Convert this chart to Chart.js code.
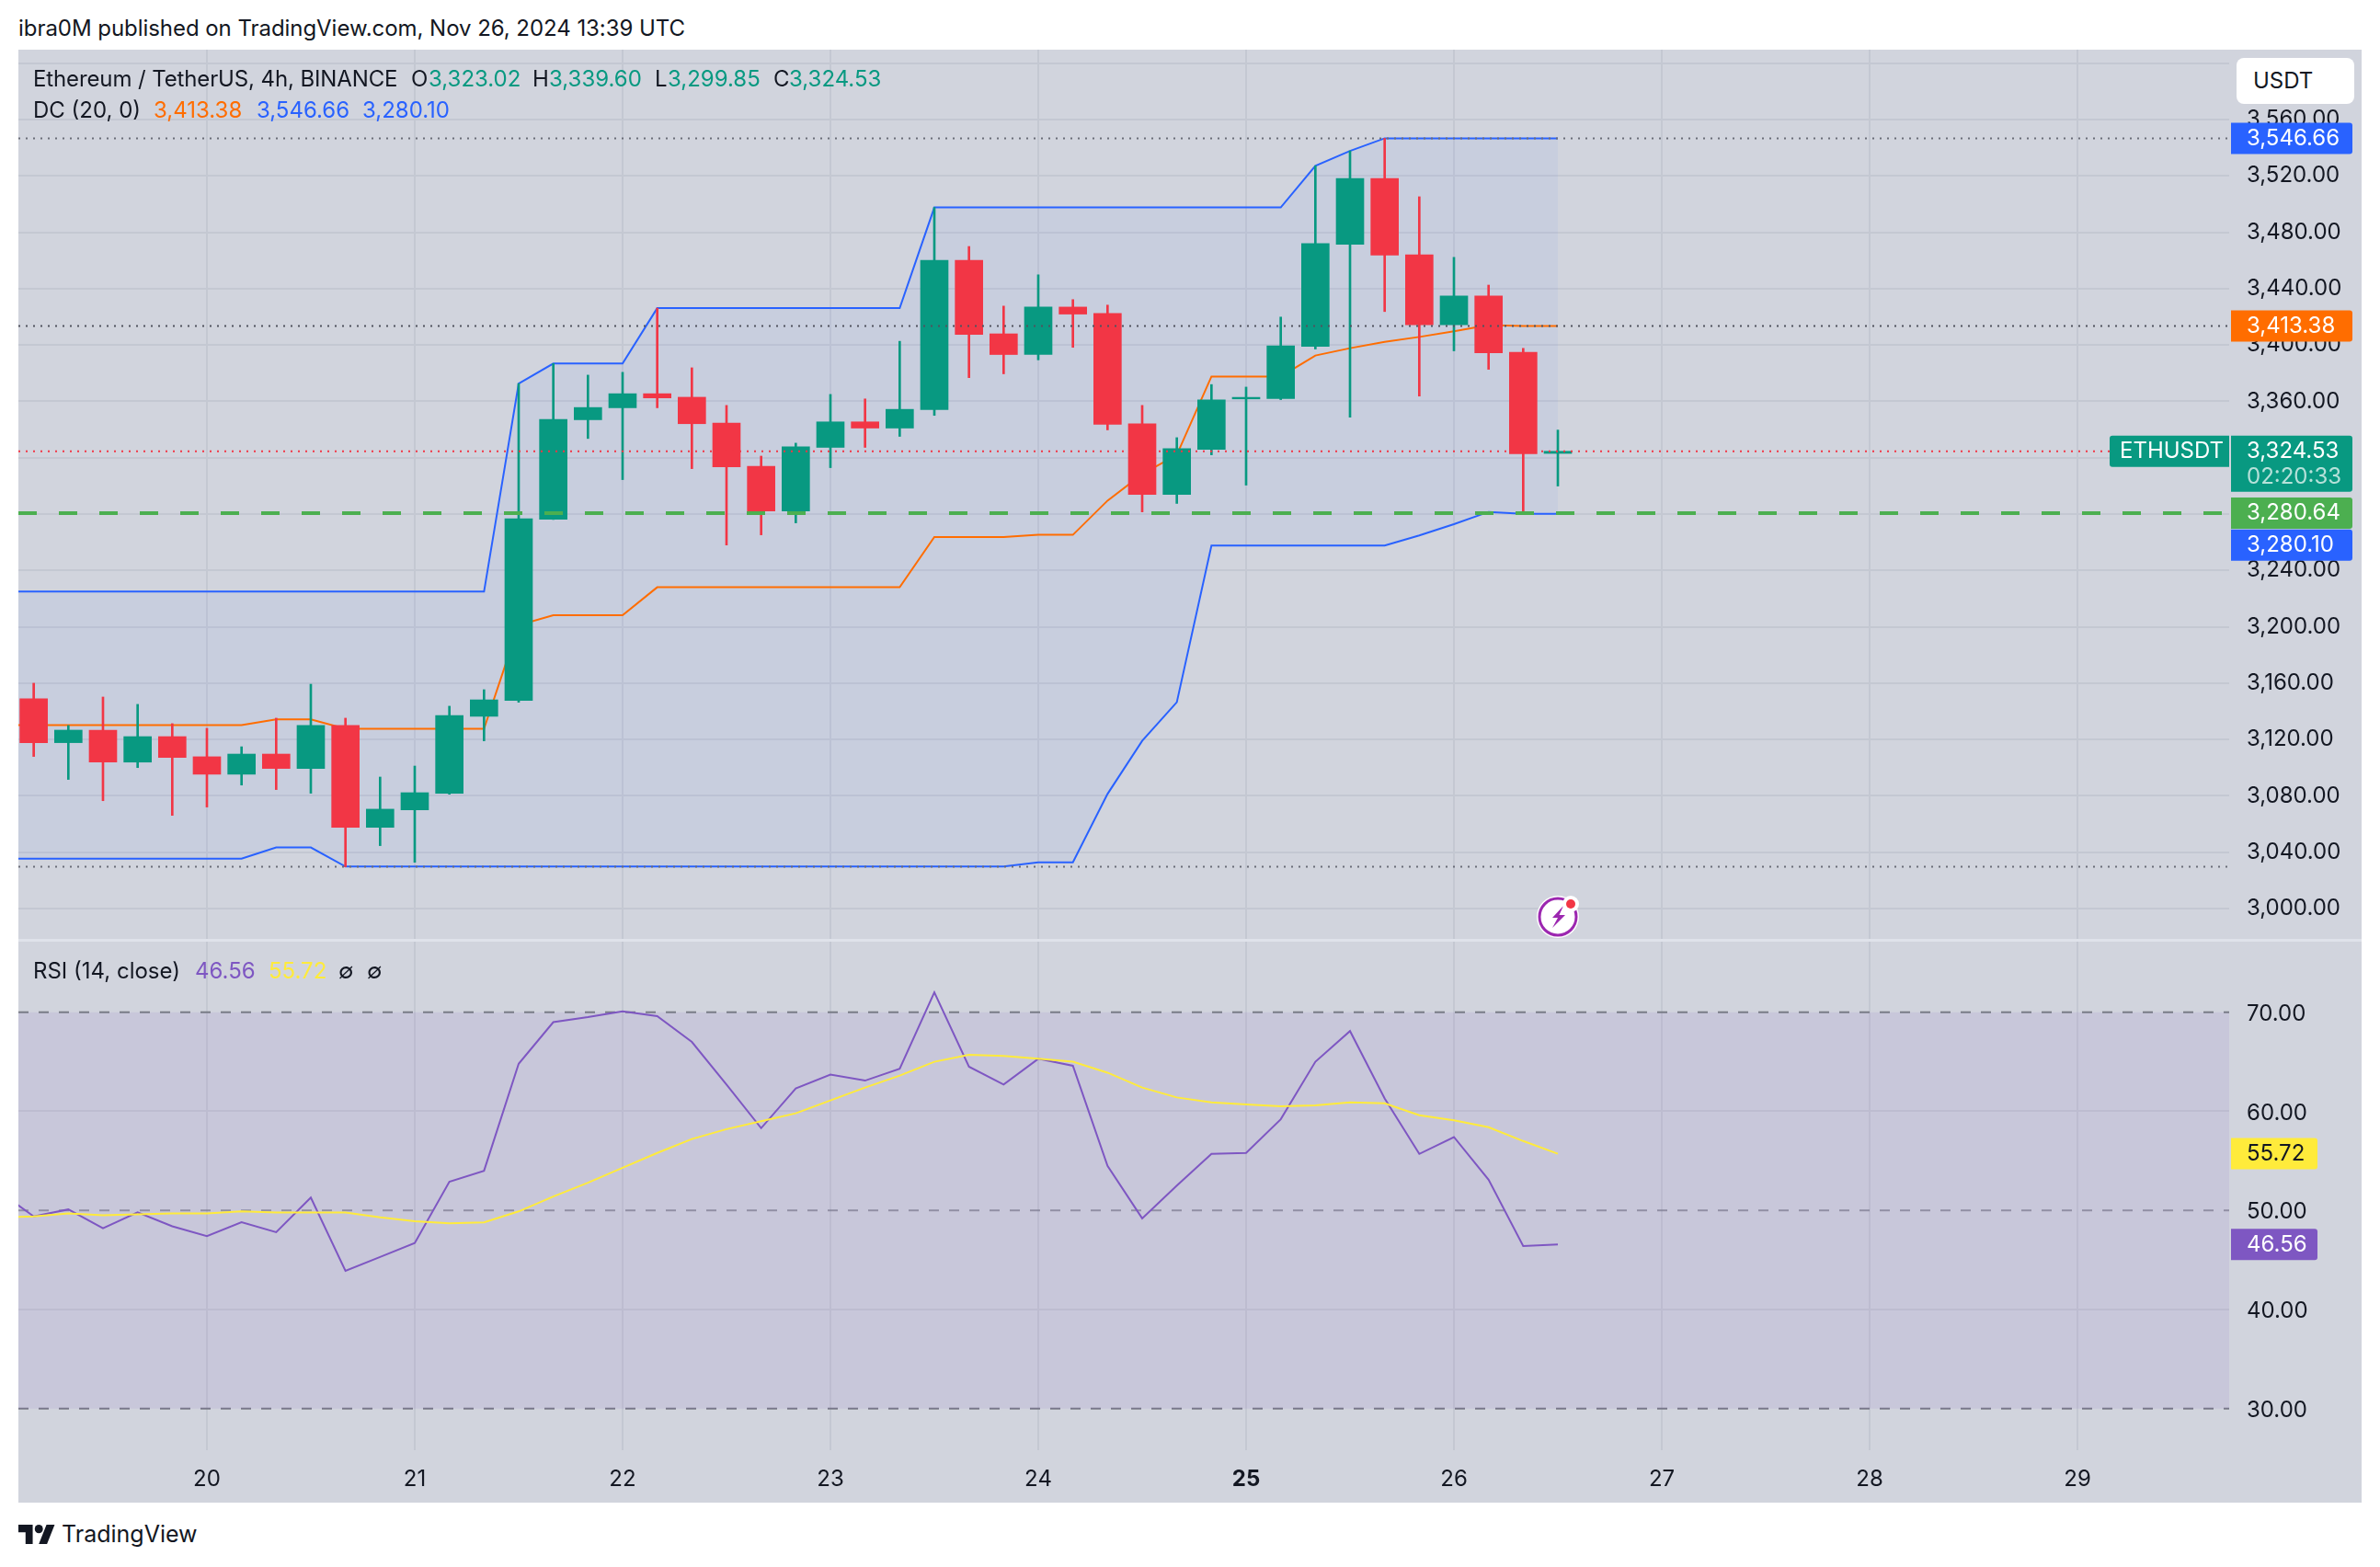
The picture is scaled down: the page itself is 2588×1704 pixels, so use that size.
<!DOCTYPE html>
<html>
<head>
<meta charset="utf-8">
<title>ETHUSDT 4h</title>
<script src="https://cdn.jsdelivr.net/npm/chart.js@4"></script>
<style>
html, body { margin: 0; padding: 0; background: #fff; }
body { width: 2588px; height: 1704px; position: relative; overflow: hidden; font-family: Inter, "Noto Sans", sans-serif; color: #131722; }
.t { position: absolute; white-space: pre; font-size: 24px; line-height: 30px; }
#panel { position: absolute; left: 20px; top: 54px; width: 2548px; height: 1580px; background: #d1d4dd; }
#sep { position: absolute; left: 20px; top: 1021px; width: 2548px; height: 3px; background: #dfe2ea; }
canvas { position: absolute; left: 20px; }
#usdt { position: absolute; left: 2432px; top: 63px; width: 128px; height: 50px; background: #fff; border-radius: 8px; }
#usdt span { position: absolute; left: 18px; top: 10px; font-size: 24px; line-height: 30px; }
</style>
</head>
<body>
<div id="panel"></div>
<canvas id="priceChart" width="2548" height="967" style="top:54px"></canvas>
<canvas id="rsiChart" width="2548" height="610" style="top:1024px"></canvas>
<div id="sep"></div>

<div class="t" style="left:20px;top:16px;letter-spacing:-0.05px">ibra0M published on TradingView.com, Nov 26, 2024 13:39 UTC</div>

<div class="t" style="left:36px;top:71px;letter-spacing:-0.12px">Ethereum / TetherUS, 4h, BINANCE</div>
<div class="t" style="left:447px;top:71px">O</div><div class="t" style="left:466px;top:71px;color:#089981">3,323.02</div>
<div class="t" style="left:579px;top:71px">H</div><div class="t" style="left:597px;top:71px;color:#089981">3,339.60</div>
<div class="t" style="left:712px;top:71px">L</div><div class="t" style="left:726px;top:71px;color:#089981">3,299.85</div>
<div class="t" style="left:841px;top:71px">C</div><div class="t" style="left:858px;top:71px;color:#089981">3,324.53</div>

<div class="t" style="left:36px;top:105px">DC (20, 0)</div>
<div class="t" style="left:167px;top:105px;color:#ff6d00">3,413.38</div>
<div class="t" style="left:279px;top:105px;color:#2962ff">3,546.66</div>
<div class="t" style="left:394px;top:105px;color:#2962ff">3,280.10</div>

<div class="t" style="left:36px;top:1041px">RSI (14, close)</div>
<div class="t" style="left:212px;top:1041px;color:#7e57c2">46.56</div>
<div class="t" style="left:292px;top:1041px;color:#ffeb3b">55.72</div>
<div class="t" style="left:368px;top:1041px">∅</div>
<div class="t" style="left:399px;top:1041px">∅</div>

<div id="usdt"><span>USDT</span></div>

<svg style="position:absolute;left:1664px;top:965px" width="60" height="60" viewBox="0 0 60 60">
  <circle cx="30" cy="32" r="23" fill="#fff"/>
  <circle cx="30" cy="32" r="20" fill="#fff" stroke="#9c27b0" stroke-width="3"/>
  <path d="M36 20 L24 33 L30 33 L24 44 L38 30 L31.5 30 Z" fill="#9c27b0"/>
  <circle cx="44" cy="18" r="9" fill="#fff"/>
  <circle cx="44" cy="18" r="5" fill="#f23645"/>
</svg>

<svg style="position:absolute;left:20px;top:1658px" width="40" height="21" viewBox="0 0 36 18" preserveAspectRatio="none">
  <path d="M14 18H7V7H0V0h14v18zM28 18h-8l7.5-18h8L28 18z" fill="#131722"/>
  <circle cx="20" cy="4" r="4" fill="#131722"/>
</svg>
<div class="t" style="left:67px;top:1653px;font-size:25px">TradingView</div>

<script>
// 4h bar slots, slot 0 = Nov 19 00:00
const barSlots = [1,2,3,4,5,6,7,8,9,10,11,12,13,14,15,16,17,18,19,20,21,22,23,24,25,26,27,28,29,30,31,32,33,34,35,36,37,38,39,40,41,42,43,44,45];
const lineSlots = [0].concat(barSlots);

const opens = [3148.8,3117.7,3126.6,3103.9,3122.0,3107.7,3095.3,3109.6,3099.4,3129.9,3057.6,3070.0,3081.8,3136.4,3147.7,3276.2,3346.9,3355.4,3365.4,3362.9,3344.6,3313.9,3282.2,3327.3,3345.4,3341.0,3354.1,3460.1,3407.9,3393.2,3426.9,3422.3,3344.0,3293.9,3325.9,3361.7,3361.9,3399.0,3471.5,3518.2,3464.0,3414.3,3434.7,3394.8,3323.02];
const highs = [3159.9,3129.9,3150.1,3144.9,3131.2,3127.9,3114.8,3135.1,3159.2,3135.1,3093.3,3101.1,3143.6,3155.3,3372.6,3386.8,3378.6,3380.6,3426.1,3383.8,3357.1,3321.1,3330.3,3364.9,3361.7,3402.6,3497.6,3469.9,3427.6,3449.8,3432.2,3428.3,3357.1,3334.2,3371.9,3370.1,3419.8,3527.2,3537.7,3546.66,3505.2,3462.2,3442.5,3397.6,3339.60];
const lows = [3107.9,3091.6,3076.5,3100.0,3066.1,3072.0,3087.6,3084.4,3081.8,3029.6,3044.6,3032.8,3081.1,3119.0,3146.4,3276.1,3333.6,3304.4,3355.4,3312.2,3258.0,3265.2,3273.7,3312.9,3327.3,3335.1,3350.0,3376.8,3379.5,3389.4,3398.3,3339.7,3281.5,3287.5,3322.0,3300.5,3361.2,3397.1,3348.8,3423.7,3363.7,3395.8,3382.7,3280.10,3299.85];
const closes = [3117.7,3126.6,3103.9,3122.0,3107.2,3095.3,3109.6,3099.4,3129.9,3057.6,3070.5,3082.2,3137.0,3148.1,3276.7,3347.1,3355.6,3365.4,3362.4,3344.1,3313.4,3282.2,3327.8,3345.4,3341.0,3354.3,3460.1,3407.4,3393.2,3426.9,3421.9,3343.6,3293.9,3326.4,3361.0,3362.8,3399.4,3472.0,3518.2,3463.8,3414.3,3434.7,3394.4,3322.7,3324.53];

const dcUpper = [3224.9,3224.9,3224.9,3224.9,3224.9,3224.9,3224.9,3224.9,3224.9,3224.9,3224.9,3224.9,3224.9,3224.9,3224.9,3372.6,3386.8,3386.8,3386.8,3426.1,3426.1,3426.1,3426.1,3426.1,3426.1,3426.1,3426.1,3497.6,3497.6,3497.6,3497.6,3497.6,3497.6,3497.6,3497.6,3497.6,3497.6,3497.6,3527.2,3537.7,3546.66,3546.66,3546.66,3546.66,3546.66,3546.66];
const dcMiddle = [3130.1,3130.1,3130.1,3130.1,3130.1,3130.1,3130.1,3130.1,3134.2,3134.2,3127.5,3127.5,3127.5,3127.5,3127.5,3201.1,3208.2,3208.2,3208.2,3228.0,3228.0,3228.0,3228.0,3228.0,3228.0,3228.0,3228.0,3263.7,3263.7,3263.7,3265.2,3265.2,3289.5,3308.3,3322.0,3377.6,3377.6,3377.6,3392.5,3397.7,3402.2,3405.7,3409.7,3414.1,3413.38,3413.38];
const dcLower = [3035.4,3035.4,3035.4,3035.4,3035.4,3035.4,3035.4,3035.4,3043.3,3043.3,3029.8,3029.8,3029.8,3029.8,3029.8,3029.8,3029.8,3029.8,3029.8,3029.8,3029.8,3029.8,3029.8,3029.8,3029.8,3029.8,3029.8,3029.8,3029.8,3029.8,3032.8,3032.8,3081.3,3119.0,3146.4,3257.6,3257.6,3257.6,3257.6,3257.6,3257.6,3264.8,3272.8,3281.5,3280.10,3280.10];

const rsiValues = [51.9,49.4,50.1,48.2,49.8,48.4,47.4,48.8,47.8,51.3,43.9,45.3,46.7,52.9,54.0,64.8,69.0,69.5,70.1,69.6,67.0,62.7,58.3,62.3,63.7,63.1,64.3,72.0,64.5,62.7,65.3,64.6,54.5,49.2,52.5,55.7,55.8,59.2,65.0,68.1,61.3,55.7,57.4,53.1,46.4,46.56];
const rsiAverage = [49.3,49.4,49.7,49.5,49.6,49.7,49.7,49.9,49.8,49.8,49.8,49.3,48.9,48.7,48.8,49.9,51.4,52.8,54.3,55.8,57.2,58.2,59.0,59.8,61.1,62.4,63.6,65.0,65.7,65.6,65.3,65.0,63.9,62.4,61.4,60.9,60.7,60.5,60.6,60.9,60.8,59.6,59.1,58.4,57.0,55.72];

const priceTicks = [3000,3040,3080,3120,3160,3200,3240,3280,3320,3360,3400,3440,3480,3520,3560,3600];
const hiddenPriceLabels = [3280,3320,3600];
const rsiTicks = [30,40,50,60,70];
const daySlots = [6,12,18,24,30,36,42,48,54,60];
const dayLabels = ['20','21','22','23','24','25','26','27','28','29'];

const highLine = 3546.66, midLine = 3413.38, lowLine = 3029.6, lastPrice = 3324.53, prevLine = 3280.64, dcLow = 3280.10;
const rsiLast = 46.56, rsiAvgLast = 55.72;

const xMin = 0.558, xMax = 64.38;
const upColor = '#089981', downColor = '#f23645';
const gridColor = '#c4c8d2';
const fontName = 'Inter, "Noto Sans", sans-serif';

Chart.defaults.font.family = fontName;
Chart.defaults.color = '#131722';
Chart.defaults.animation = false;

function money(v) {
  return v.toLocaleString('en-US', { minimumFractionDigits: 2, maximumFractionDigits: 2 });
}

function series(slots, values) {
  return slots.map((s, i) => ({ x: s, y: values[i] }));
}

function hLine(value, color, dash, width, order) {
  return {
    type: 'line',
    data: [{ x: xMin, y: value }, { x: xMax, y: value }],
    borderColor: color, borderDash: dash, borderWidth: width,
    pointRadius: 0, order: order
  };
}

function indicator(values, slots, color, order, fill, fillColor) {
  return {
    type: 'line',
    data: series(slots, values),
    borderColor: color, borderWidth: 2, pointRadius: 0, tension: 0,
    borderJoinStyle: 'miter',
    fill: fill || false, backgroundColor: fillColor || 'transparent', order: order
  };
}

function xAxis(showLabels) {
  return {
    type: 'linear', min: xMin, max: xMax, offset: false,
    afterBuildTicks: s => { s.ticks = daySlots.map(v => ({ value: v })); },
    afterFit: s => { s.height = showLabels ? 57 : 0; s.paddingLeft = 0; s.paddingRight = 0; },
    border: { display: false },
    grid: { color: gridColor, lineWidth: 2, drawTicks: false, offset: false },
    ticks: {
      display: showLabels, autoSkip: false, maxRotation: 0, padding: 17,
      callback: v => dayLabels[daySlots.indexOf(v)],
      font: c => (dayLabels[c.index] === '25' ? { size: 24, weight: 'bold' } : { size: 24 })
    }
  };
}

function yAxis(min, max, ticks, label, drawGrid, shift) {
  return {
    type: 'linear', position: 'right', min: min, max: max,
    afterBuildTicks: s => { s.ticks = ticks.map(v => ({ value: v })); },
    afterFit: s => { s.width = 144; s.paddingTop = 0; s.paddingBottom = 0; },
    border: { display: false },
    grid: { color: drawGrid, lineWidth: 2, drawTicks: false },
    ticks: { padding: 19, labelOffset: shift, font: { size: 24 }, callback: label }
  };
}

// value tags on the right axis, placed from the chart's own y scale
function tagPlugin(tags) {
  return {
    id: 'tags',
    afterDraw(chart) {
      const ctx = chart.ctx, left = chart.chartArea.right + 2;
      ctx.save();
      ctx.textBaseline = 'middle';
      ctx.font = '24px ' + fontName;
      tags.forEach(tag => {
        const y = chart.scales.y.getPixelForValue(tag.value) + (tag.shift || 0);
        const w = tag.width || 132, h = tag.height || 34;
        ctx.fillStyle = tag.bg;
        ctx.beginPath();
        ctx.roundRect(left, y - 17, w, h, [0, 3, 3, 0]);
        ctx.fill();
        ctx.fillStyle = tag.fg;
        ctx.textAlign = 'left';
        ctx.fillText(tag.text, left + 17, y);
        if (tag.sub) {
          ctx.fillStyle = 'rgba(255,255,255,0.7)';
          ctx.fillText(tag.sub, left + 17, y + 28);
        }
        if (tag.name) {
          ctx.fillStyle = tag.bg;
          ctx.beginPath();
          ctx.roundRect(left - 132, y - 17, 130, 34, [3, 0, 0, 3]);
          ctx.fill();
          ctx.fillStyle = tag.fg;
          ctx.fillText(tag.name, left - 121, y);
        }
      });
      ctx.restore();
    }
  };
}

new Chart(document.getElementById('priceChart'), {
  type: 'bar',
  data: {
    datasets: [
      hLine(midLine, '#50535e', [2, 6], 2, 1),
      hLine(highLine, '#6a6d78', [2, 6], 2, 1),
      hLine(lowLine, '#6a6d78', [2, 6], 2, 1),
      hLine(lastPrice, downColor, [2, 6], 2, 1),
      hLine(prevLine, '#4caf50', [20, 24], 4, 1),
      {
        type: 'bar', grouped: false, barThickness: 30, borderWidth: 0, order: 2,
        data: barSlots.map((s, i) => ({ x: s, y: [opens[i], closes[i]] })),
        backgroundColor: closes.map((c, i) => (c >= opens[i] ? upColor : downColor))
      },
      {
        type: 'bar', grouped: false, barThickness: 2, borderWidth: 0, order: 3,
        data: barSlots.map((s, i) => ({ x: s, y: [lows[i], highs[i]] })),
        backgroundColor: closes.map((c, i) => (c >= opens[i] ? upColor : downColor))
      },
      indicator(dcMiddle, lineSlots, '#ff6d00', 4),
      indicator(dcUpper, lineSlots, '#2962ff', 5, '+1', 'rgba(41,98,255,0.05)'),
      indicator(dcLower, lineSlots, '#2962ff', 5)
    ]
  },
  options: {
    responsive: false,
    layout: { padding: 0 },
    plugins: { legend: { display: false }, tooltip: { enabled: false } },
    scales: {
      x: xAxis(false),
      y: yAxis(2978.4, 3609.6, priceTicks, v => (hiddenPriceLabels.includes(v) ? '' : money(v)), gridColor, 0)
    }
  },
  plugins: [tagPlugin([
    { value: highLine, text: money(highLine), bg: '#2962ff', fg: '#fff' },
    { value: midLine, text: money(midLine), bg: '#ff6d00', fg: '#fff' },
    { value: lastPrice, text: money(lastPrice), sub: '02:20:33', name: 'ETHUSDT', bg: upColor, fg: '#fff', height: 61 },
    { value: prevLine, text: money(prevLine), bg: '#4caf50', fg: '#fff' },
    { value: dcLow, text: money(dcLow), bg: '#2962ff', fg: '#fff', shift: 34 }
  ])]
});

new Chart(document.getElementById('rsiChart'), {
  type: 'line',
  data: {
    datasets: [
      indicator(rsiValues, lineSlots, '#7e57c2', 2),
      indicator(rsiAverage, lineSlots, '#ffeb3b', 1),
      Object.assign(hLine(70, '#787b86', [11, 11], 2, 3), { fill: '+1', backgroundColor: 'rgba(126,87,194,0.1)' }),
      hLine(30, '#787b86', [11, 11], 2, 3),
      hLine(50, 'rgba(120,123,134,0.7)', [11, 11], 2, 3)
    ]
  },
  options: {
    responsive: false,
    layout: { padding: 0 },
    plugins: { legend: { display: false }, tooltip: { enabled: false } },
    scales: {
      x: xAxis(true),
      y: yAxis(25.8, 77.12, rsiTicks, v => money(v), c => ([40, 60].includes(c.tick.value) ? gridColor : 'transparent'), 2)
    }
  },
  plugins: [tagPlugin([
    { value: rsiAvgLast, text: money(rsiAvgLast), bg: '#ffeb3b', fg: '#131722', width: 94 },
    { value: rsiLast, text: money(rsiLast), bg: '#7e57c2', fg: '#fff', width: 94 }
  ])]
});
</script>
</body>
</html>
